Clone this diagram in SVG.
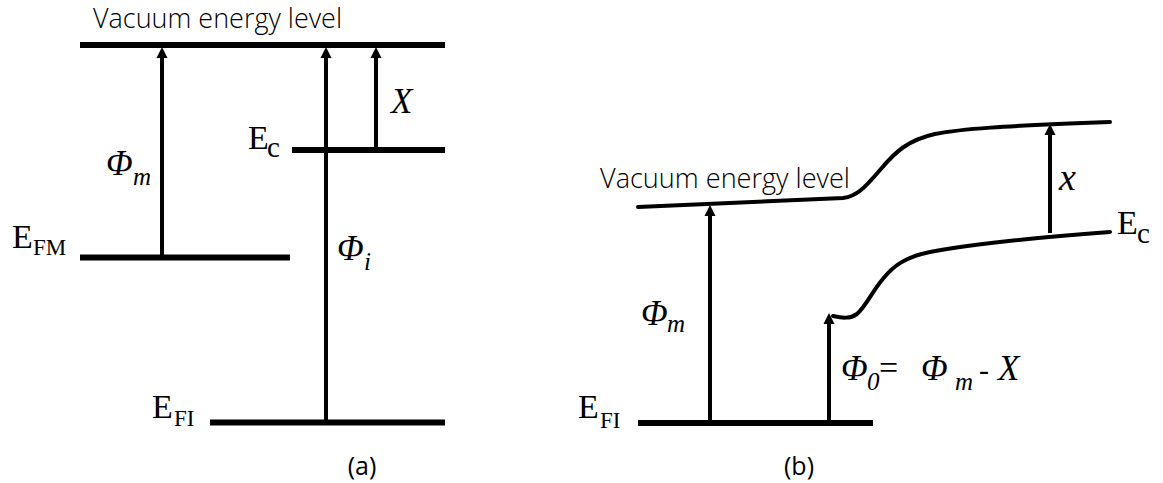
<svg xmlns="http://www.w3.org/2000/svg" width="1163" height="483" viewBox="0 0 1163 483">
<defs>
<style>
.lvl{stroke:#000;stroke-width:6;fill:none}
.arr{stroke:#000;stroke-width:4;fill:none;marker-end:url(#ah)}
.crv{stroke:#000;stroke-width:4;fill:none;stroke-linecap:round}
.cap{font-family:"Open Sans","Noto Sans",sans-serif;font-weight:300;font-size:27px;fill:#000}
.tm{font-family:"Liberation Serif","Times New Roman",serif;fill:#000}
.E{font-size:34px}
.sub{font-size:23px}
.ph{font-style:italic;font-size:35px}
.phs{font-style:italic;font-size:25px}
.lab{font-family:"Open Sans","Noto Sans",sans-serif;font-size:25px;fill:#000}
</style>
<marker id="ah" viewBox="0 -6 11 12" refX="2" refY="0" markerWidth="11" markerHeight="12" markerUnits="userSpaceOnUse" orient="auto">
<path d="M0,-5.5 L11,0 L0,5.5 Z" fill="#000"/>
</marker>
</defs>

<g id="panel-a-levels">
<line id="a-vacuum" class="lvl" x1="80" y1="45" x2="445" y2="45"/>
<line id="a-ec" class="lvl" x1="292" y1="150" x2="445" y2="150"/>
<line id="a-efm" class="lvl" x1="80" y1="257.5" x2="290" y2="257.5"/>
<line id="a-efi" class="lvl" x1="210" y1="422.5" x2="445" y2="422.5"/>
</g>

<g id="panel-b-levels">
<path id="b-vacuum" class="crv" d="M638,207 L843,198 C858,196 866,186 880,170 C895,152 908,140 935,134 C960,129 1000,126 1110,122"/>
<path id="b-ec" class="crv" d="M833,316 C842,318 850,319 857,314 C866,306 872,292 882,280 C893,266 905,257 930,252 C970,244 1030,238 1110,232"/>
<line id="b-efi" class="lvl" x1="638" y1="423" x2="873" y2="423"/>
</g>

<g id="connectors">
<line class="arr" x1="162" y1="257" x2="162" y2="56"/>
<line class="arr" x1="326" y1="422" x2="326" y2="56"/>
<line class="arr" x1="376" y1="150" x2="376" y2="56"/>
<line class="arr" x1="710" y1="423" x2="710" y2="214"/>
<line class="arr" x1="829" y1="423" x2="829" y2="322"/>
<line class="arr" x1="1050" y1="233" x2="1050" y2="133"/>
</g>

<g id="labels-a">
<text class="cap" x="93" y="28" textLength="249" lengthAdjust="spacingAndGlyphs">Vacuum energy level</text>
<text class="tm E" x="248" y="149">E</text><text class="tm" x="267" y="157" font-size="29">c</text>
<text class="tm ph" x="391" y="113" font-size="36">X</text>
<text class="tm ph" x="106" y="175">Φ</text><text class="tm phs" x="133" y="185">m</text>
<text class="tm E" x="12" y="248">E</text><text class="tm sub" x="33" y="255">FM</text>
<text class="tm ph" x="337" y="260">Φ</text><text class="tm phs" x="364" y="270">i</text>
<text class="tm E" x="152" y="418">E</text><text class="tm sub" x="174" y="426">FI</text>
<text class="lab" x="362" y="475" text-anchor="middle">(a)</text>
</g>

<g id="labels-b">
<text class="cap" x="600" y="188" textLength="250" lengthAdjust="spacingAndGlyphs">Vacuum energy level</text>
<text class="tm" x="1059" y="190" font-size="38" font-style="italic">x</text>
<text class="tm E" x="1117" y="234">E</text><text class="tm" x="1137" y="243" font-size="29">c</text>
<text class="tm ph" x="641" y="325">Φ</text><text class="tm phs" x="667" y="332">m</text>
<text class="tm E" x="578" y="418">E</text><text class="tm sub" x="600" y="428">FI</text>
<text class="tm ph" x="841" y="380">Φ</text><text class="tm phs" x="867" y="390" font-size="22">0</text>
<text class="tm" x="879" y="379" font-size="34">=</text>
<text class="tm ph" x="921" y="380">Φ</text><text class="tm phs" x="955" y="390">m</text>
<text class="tm" x="979" y="380" font-size="30">-</text>
<text class="tm ph" x="998" y="380">X</text>
<text class="lab" x="799" y="475" text-anchor="middle">(b)</text>
</g>
</svg>
